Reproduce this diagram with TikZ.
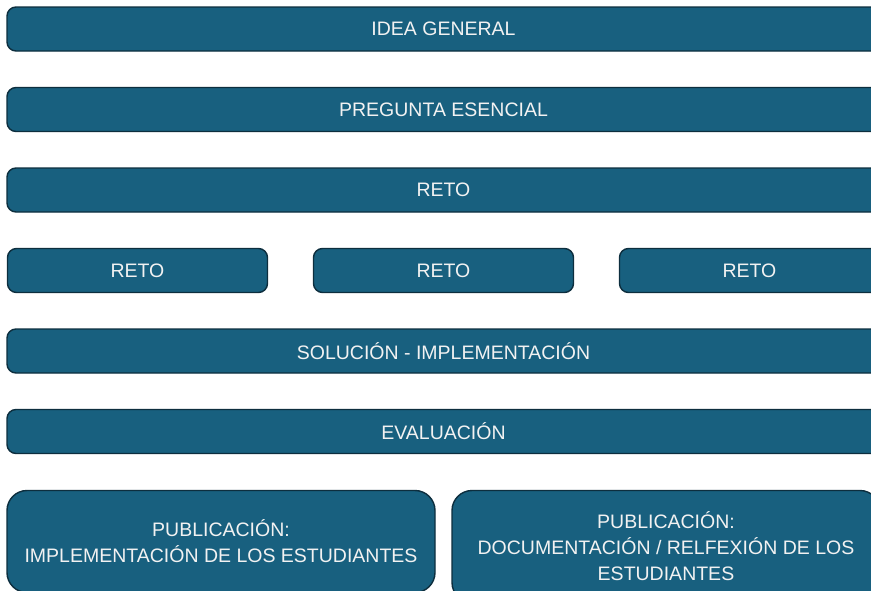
\documentclass[tikz,border=0pt]{standalone}
\usepackage{fontspec}
\setmainfont{Liberation Sans}
\usetikzlibrary{positioning}

\definecolor{boxfill}{HTML}{18607F}
\definecolor{boxline}{HTML}{0D2E3E}
\definecolor{boxtext}{HTML}{F2F2F2}

\begin{document}
\begin{tikzpicture}[
                    x=1pt,
                    y=1pt,
                    node distance=36.5pt,
                    box/.style={
                        draw=boxline,
                        line width=1.4pt,
                        fill=boxfill,
                        text=boxtext,
                        rounded corners=9pt,
                        inner sep=0pt,
                        outer sep=0pt,
                        minimum height=44pt,
                        align=center,
                        font=\fontsize{19.5}{26}\selectfont
                    },
                    wide/.style={box, minimum width=873pt},
                    small/.style={box, minimum width=260pt},
                    pub/.style={box, rounded corners=20pt, minimum width=428pt, minimum height=112pt}
                ]
                \useasboundingbox (0,0) rectangle (871,-590);
                \clip (0,0) rectangle (871,-590);

                \node (idea) [wide] at (443.5,-29) {IDEA GENERAL};
                \node (pregunta) [wide, below=of idea] {PREGUNTA ESENCIAL};
                \node (reto) [wide, below=of pregunta] {RETO};

                \node (retoB) [small, below=of reto] {RETO};
                \node (retoA) [small, left=46pt of retoB] {RETO};
                \node (retoC) [small, right=46pt of retoB] {RETO};

                \node (solucion) [wide, below=of retoB] {SOLUCIÓN - IMPLEMENTACIÓN};
                \node (evaluacion) [wide, below=of solucion] {EVALUACIÓN};

                \node (pubA) [pub, minimum height=102pt, below=37pt of evaluacion.south west, anchor=north west]
                    {PUBLICACIÓN:\\IMPLEMENTACIÓN DE LOS ESTUDIANTES};
                \node (pubB) [pub, below=37pt of evaluacion.south east, anchor=north east]
                    {PUBLICACIÓN:\\DOCUMENTACIÓN / RELFEXIÓN DE LOS\\ESTUDIANTES};
            \end{tikzpicture}
\end{document}
